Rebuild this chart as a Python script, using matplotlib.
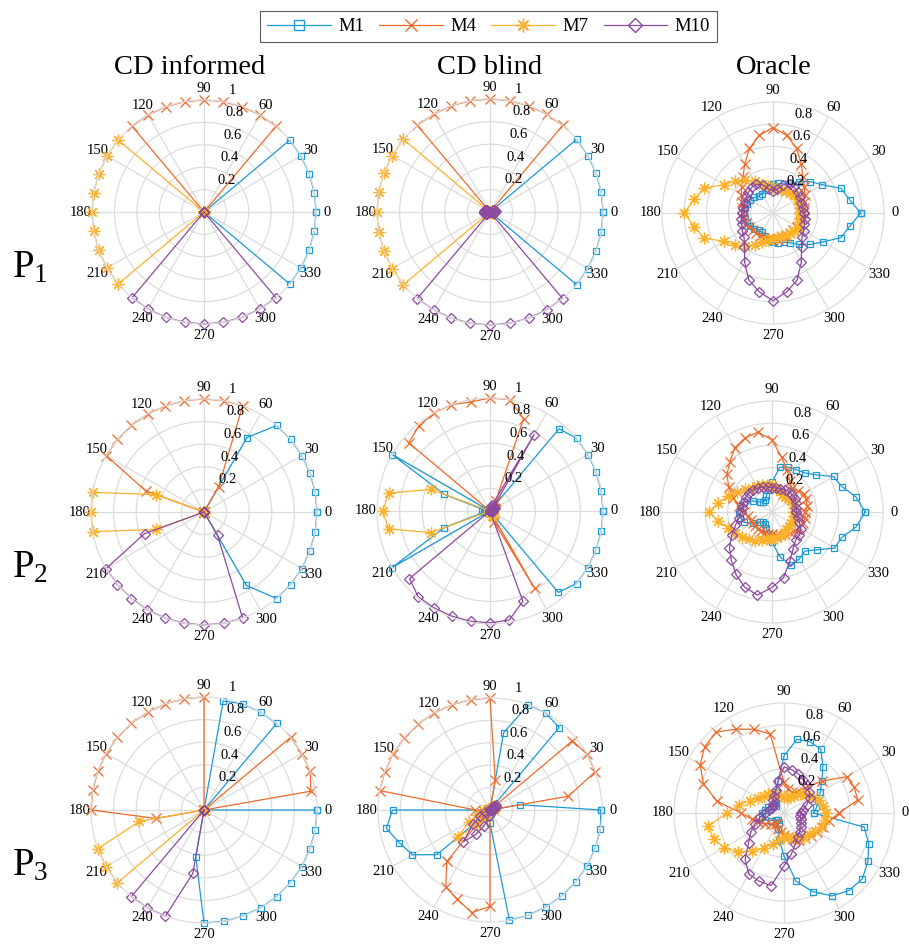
import numpy as np
import matplotlib
matplotlib.use("Agg")
import matplotlib.pyplot as plt
from matplotlib.lines import Line2D

plt.rcParams["font.family"] = ["Liberation Serif", "DejaVu Serif"]
plt.rcParams["mathtext.default"] = "regular"

W, H = 909, 948

ANGLES = list(range(0, 360, 10))          # beam directions, deg
SERIES = ["M1", "M4", "M7", "M10"]
COLUMNS = ["CD informed", "CD blind", "Oracle"]
ROWS = ["P$_1$", "P$_2$", "P$_3$"]
THETA_TICKS = list(range(0, 360, 30))

COLORS = {"M1": "#1b9ad6", "M4": "#ee6a2b", "M7": "#fcb12a", "M10": "#8c4a9f"}
MARKERS = {"M1": dict(marker="s", ms=5),
           "M4": dict(marker="x", ms=6.5),
           "M7": dict(marker=(8, 2, 0), ms=8.5),
           "M10": dict(marker="D", ms=5)}
LEG_MS = {"M1": 7, "M4": 8, "M7": 10, "M10": 7.5}

# ---- values, 36 per series (0..350 deg) ----
# P1
inf_p1_m1 = [1, 1, 1, 1, 1, 0, 0, 0, 0,  0, 0, 0, 0, 0, 0, 0, 0, 0,
             0, 0, 0, 0, 0, 0, 0, 0, 0,  0, 0, 0, 0, 0, 1, 1, 1, 1]
inf_p1_m4 = [0, 0, 0, 0, 0, 1, 1, 1, 1,  1, 1, 1, 1, 1, 0, 0, 0, 0,
             0, 0, 0, 0, 0, 0, 0, 0, 0,  0, 0, 0, 0, 0, 0, 0, 0, 0]
inf_p1_m7 = [0, 0, 0, 0, 0, 0, 0, 0, 0,  0, 0, 0, 0, 0, 1, 1, 1, 1,
             1, 1, 1, 1, 1, 0, 0, 0, 0,  0, 0, 0, 0, 0, 0, 0, 0, 0]
inf_p1_m10 = [0, 0, 0, 0, 0, 0, 0, 0, 0,  0, 0, 0, 0, 0, 0, 0, 0, 0,
              0, 0, 0, 0, 0, 1, 1, 1, 1,  1, 1, 1, 1, 1, 0, 0, 0, 0]

bl_p1_m1 = [1, 1, 1, 1, 1, 0, 0, 0, 0,  0, 0, 0, 0, 0, 0, 0.02, 0.03, 0.03,
            0.03, 0.03, 0.02, 0, 0, 0, 0, 0, 0,  0, 0, 0, 0, 0, 1, 1, 1, 1]
bl_p1_m4 = [0, 0, 0, 0, 0, 1, 1, 1, 1,  1, 1, 1, 1, 1, 0, 0, 0, 0,
            0, 0, 0, 0, 0, 0, 0, 0, 0,  0.02, 0.02, 0, 0, 0, 0, 0, 0, 0]
bl_p1_m7 = [0.02, 0.03, 0.02, 0, 0, 0, 0, 0, 0,  0, 0, 0, 0, 0, 1, 1, 1, 1,
            1, 1, 1, 1, 1, 0, 0, 0, 0,  0, 0, 0, 0, 0, 0, 0, 0.02, 0.02]
bl_p1_m10 = [0.04, 0.05, 0.04, 0.03, 0, 0, 0, 0, 0,  0, 0, 0, 0, 0, 0.03, 0.04, 0.05, 0.05,
             0.05, 0.05, 0.04, 0.03, 0, 1, 1, 1, 1,  1, 1, 1, 1, 1, 0, 0, 0.03, 0.04]

or_p1_m1 = [0.79, 0.70, 0.65, 0.51, 0.44, 0.37, 0.31, 0.28, 0.27,
            0.26, 0.25, 0.22, 0.20, 0.20, 0.22, 0.24, 0.25, 0.26,
            0.26, 0.26, 0.25, 0.24, 0.22, 0.20, 0.20, 0.22, 0.25,
            0.26, 0.27, 0.28, 0.31, 0.37, 0.44, 0.52, 0.65, 0.70]
or_p1_m4 = [0.27, 0.28, 0.30, 0.33, 0.37, 0.42, 0.51, 0.62, 0.71,
            0.77, 0.71, 0.62, 0.51, 0.42, 0.37, 0.33, 0.30, 0.28,
            0.27, 0.27, 0.26, 0.25, 0.24, 0.24, 0.24, 0.24, 0.24,
            0.24, 0.24, 0.24, 0.24, 0.24, 0.24, 0.25, 0.26, 0.27]
or_p1_m7 = [0.24, 0.25, 0.25, 0.26, 0.25, 0.24, 0.23, 0.22, 0.22,
            0.23, 0.25, 0.28, 0.33, 0.39, 0.45, 0.51, 0.66, 0.72,
            0.80, 0.72, 0.66, 0.51, 0.45, 0.39, 0.33, 0.28, 0.25,
            0.23, 0.22, 0.22, 0.23, 0.24, 0.25, 0.26, 0.25, 0.25]
or_p1_m10 = [0.28, 0.27, 0.27, 0.28, 0.29, 0.30, 0.30, 0.27, 0.22,
             0.20, 0.22, 0.27, 0.30, 0.30, 0.29, 0.28, 0.27, 0.27,
             0.28, 0.29, 0.30, 0.32, 0.34, 0.40, 0.51, 0.64, 0.72,
             0.79, 0.72, 0.64, 0.51, 0.40, 0.34, 0.32, 0.30, 0.29]

# P2
inf_p2_m1 = [1, 1, 1, 1, 1, 1, 0.76, 0, 0,  0, 0, 0, 0, 0, 0, 0, 0, 0,
             0, 0, 0, 0, 0, 0, 0, 0, 0,  0, 0, 0, 0.75, 1, 1, 1, 1, 1]
inf_p2_m4 = [0, 0, 0, 0, 0, 0, 0.26, 1, 1,  1, 1, 1, 1, 1, 1, 1, 0.55, 0,
             0, 0, 0, 0, 0, 0, 0, 0, 0,  0, 0, 0, 0, 0, 0, 0, 0, 0]
inf_p2_m7 = [0, 0, 0, 0, 0, 0, 0, 0, 0,  0, 0, 0, 0, 0, 0, 0, 0.45, 1,
             1, 1, 0.45, 0, 0, 0, 0, 0, 0,  0, 0, 0, 0, 0, 0, 0, 0, 0]
inf_p2_m10 = [0, 0, 0, 0, 0, 0, 0, 0, 0,  0, 0, 0, 0, 0, 0, 0, 0, 0,
              0, 0, 0.56, 1, 1, 1, 1, 1, 1,  1, 1, 1, 0.24, 0, 0, 0, 0, 0]

bl_p2_m1 = [1, 1, 1, 1, 1, 0.95, 0, 0, 0,  0, 0, 0, 0, 0, 0, 1, 0.43, 0.05,
            0.07, 0.05, 0.43, 1, 0, 0, 0, 0, 0,  0, 0, 0, 0, 0.94, 1, 1, 1, 1]
bl_p2_m4 = [0, 0, 0, 0, 0, 0, 0.10, 0.87, 1,  1, 0.98, 1, 1, 0.98, 0.94, 0, 0, 0,
            0, 0, 0, 0, 0, 0, 0, 0, 0,  0, 0, 0.10, 0.79, 0, 0, 0, 0, 0]
bl_p2_m7 = [0, 0, 0, 0.04, 0.05, 0.04, 0, 0, 0,  0, 0, 0, 0, 0, 0, 0, 0.56, 0.91,
            0.95, 0.91, 0.56, 0, 0, 0, 0, 0, 0,  0, 0, 0.05, 0.06, 0.04, 0, 0, 0, 0]
bl_p2_m10 = [0.03, 0.03, 0.04, 0.05, 0.05, 0.06, 0.78, 0.06, 0.04,  0, 0, 0, 0, 0, 0, 0, 0, 0,
             0, 0, 0, 0, 0.93, 0.99, 0.99, 0.99, 0.99,  0.99, 0.98, 0.85, 0, 0, 0, 0, 0, 0.02]

or_p2_m1 = [0.84, 0.77, 0.67, 0.64, 0.52, 0.46, 0.44, 0.43, 0.41,
            0.27, 0.20, 0.15, 0.12, 0.12, 0.14, 0.20, 0.27, 0.29,
            0.30, 0.29, 0.27, 0.20, 0.14, 0.12, 0.12, 0.15, 0.20,
            0.27, 0.41, 0.51, 0.49, 0.46, 0.53, 0.65, 0.67, 0.77]
or_p2_m4 = [0.30, 0.32, 0.33, 0.33, 0.30, 0.28, 0.32, 0.40, 0.50,
            0.65, 0.73, 0.71, 0.67, 0.59, 0.53, 0.45, 0.37, 0.30,
            0.25, 0.22, 0.20, 0.20, 0.20, 0.20, 0.20, 0.20, 0.20,
            0.20, 0.21, 0.22, 0.23, 0.25, 0.27, 0.28, 0.30, 0.30]
or_p2_m7 = [0.20, 0.20, 0.20, 0.20, 0.19, 0.18, 0.18, 0.20, 0.22,
            0.24, 0.25, 0.26, 0.27, 0.28, 0.32, 0.36, 0.42, 0.49,
            0.57, 0.49, 0.42, 0.38, 0.35, 0.32, 0.30, 0.27, 0.25,
            0.24, 0.24, 0.23, 0.22, 0.20, 0.20, 0.20, 0.20, 0.20]
or_p2_m10 = [0.22, 0.22, 0.23, 0.24, 0.24, 0.24, 0.23, 0.22, 0.22,
             0.22, 0.23, 0.24, 0.25, 0.26, 0.27, 0.27, 0.27, 0.27,
             0.28, 0.30, 0.35, 0.42, 0.50, 0.57, 0.65, 0.72, 0.76,
             0.68, 0.60, 0.47, 0.38, 0.33, 0.32, 0.30, 0.26, 0.24]

# P3
inf_p3_m1 = [1, 0, 0, 0, 0, 1, 1, 1, 0.98,  0, 0, 0, 0, 0, 0, 0, 0, 0,
             0, 0, 0, 0, 0, 0, 0, 0, 0.42,  1, 1, 1, 1, 1, 1, 1, 1, 1]
inf_p3_m4 = [0, 0.96, 1, 1, 1, 0, 0, 0, 0,  1, 1, 1, 1, 1, 1, 1, 1, 1,
             1, 0.43, 0, 0, 0, 0, 0, 0, 0,  0, 0, 0, 0, 0, 0, 0, 0, 0]
inf_p3_m7 = [0, 0, 0, 0, 0, 0, 0, 0, 0,  0, 0, 0, 0, 0, 0, 0, 0, 0,
             0, 0.58, 1, 1, 1, 0, 0, 0, 0,  0, 0, 0, 0, 0, 0, 0, 0, 0]
inf_p3_m10 = [0, 0, 0, 0, 0, 0, 0, 0, 0,  0, 0, 0, 0, 0, 0, 0, 0, 0,
              0, 0, 0, 0, 0, 1, 1, 1, 0.57,  0, 0, 0, 0, 0, 0, 0, 0, 0]

bl_p3_m1 = [0.99, 0.27, 0, 0, 0, 0.96, 1, 1, 0.70,  0, 0, 0, 0, 0, 0, 0, 0, 0,
            0.87, 0.94, 0.86, 0.80, 0.62, 0.03, 0.03, 0.03, 0.05,  0.12, 1, 1, 1, 1, 1, 1, 1, 1]
bl_p3_m4 = [0, 0.71, 1, 1, 0.96, 0, 0, 0, 0.27,  1, 1, 1, 1, 1, 1, 1, 1, 1,
            0.13, 0.05, 0.05, 0.05, 0.05, 0.60, 0.79, 0.85, 0.93,  0.86, 0, 0, 0, 0, 0, 0, 0, 0]
bl_p3_m7 = [0.04, 0.04, 0.04, 0.05, 0.05, 0.03, 0, 0, 0,  0, 0, 0, 0, 0, 0, 0, 0, 0,
            0.03, 0.05, 0.12, 0.22, 0.37, 0.18, 0.08, 0, 0,  0, 0, 0, 0, 0, 0, 0, 0, 0]
bl_p3_m10 = [0.03, 0.04, 0.05, 0.06, 0.07, 0.05, 0.03, 0, 0,  0, 0, 0, 0, 0, 0, 0, 0, 0,
             0, 0, 0.05, 0.10, 0.20, 0.37, 0.25, 0.15, 0.05,  0, 0, 0, 0, 0, 0, 0, 0, 0]

or_p3_m1 = [0.27, 0.30, 0.33, 0.38, 0.45, 0.55, 0.67, 0.69, 0.68,
            0.52, 0.30, 0.20, 0.15, 0.12, 0.10, 0.12, 0.15, 0.18,
            0.20, 0.20, 0.18, 0.14, 0.10, 0.08, 0.10, 0.15, 0.25,
            0.39, 0.63, 0.76, 0.87, 0.92, 0.93, 0.88, 0.82, 0.74]
or_p3_m4 = [0.50, 0.68, 0.68, 0.66, 0.45, 0.30, 0.22, 0.20, 0.22,
            0.28, 0.73, 0.81, 0.88, 0.96, 0.94, 0.88, 0.78, 0.62,
            0.39, 0.30, 0.25, 0.20, 0.15, 0.12, 0.12, 0.15, 0.18,
            0.20, 0.22, 0.25, 0.28, 0.30, 0.32, 0.35, 0.38, 0.42]
or_p3_m7 = [0.38, 0.36, 0.34, 0.30, 0.26, 0.22, 0.18, 0.15, 0.14,
            0.15, 0.16, 0.18, 0.20, 0.22, 0.24, 0.27, 0.33, 0.42,
            0.52, 0.70, 0.68, 0.63, 0.55, 0.45, 0.37, 0.30, 0.25,
            0.22, 0.22, 0.24, 0.26, 0.28, 0.30, 0.33, 0.36, 0.38]
or_p3_m10 = [0.15, 0.18, 0.22, 0.27, 0.30, 0.33, 0.35, 0.38, 0.40,
             0.42, 0.30, 0.22, 0.18, 0.15, 0.13, 0.12, 0.12, 0.14,
             0.17, 0.22, 0.28, 0.35, 0.42, 0.55, 0.64, 0.66, 0.67,
             0.48, 0.38, 0.30, 0.25, 0.22, 0.20, 0.18, 0.16, 0.15]

PANELS = [
    [[inf_p1_m1, inf_p1_m4, inf_p1_m7, inf_p1_m10],
     [bl_p1_m1, bl_p1_m4, bl_p1_m7, bl_p1_m10],
     [or_p1_m1, or_p1_m4, or_p1_m7, or_p1_m10]],
    [[inf_p2_m1, inf_p2_m4, inf_p2_m7, inf_p2_m10],
     [bl_p2_m1, bl_p2_m4, bl_p2_m7, bl_p2_m10],
     [or_p2_m1, or_p2_m4, or_p2_m7, or_p2_m10]],
    [[inf_p3_m1, inf_p3_m4, inf_p3_m7, inf_p3_m10],
     [bl_p3_m1, bl_p3_m4, bl_p3_m7, bl_p3_m10],
     [or_p3_m1, or_p3_m4, or_p3_m7, or_p3_m10]],
]

# panel centre (x, y) and outer radius, in pixels
GEOM = [[(204, 212, 112), (490, 212, 113), (773, 213, 111)],
        [(204, 512, 113), (490, 511, 113), (772, 512, 111)],
        [(204, 810, 113), (490, 810, 112), (784, 813, 110)]]

GRID = "#dcdcdc"
TICK_FS = 10.5


def panel(fig, cx, cy, R, series, rlabels):
    ax = fig.add_axes([(cx - R) / W, 1 - (cy + R) / H, 2 * R / W, 2 * R / H],
                      projection="polar")
    th = np.deg2rad(ANGLES + [360])
    for name, vals in zip(SERIES, series):
        ax.plot(th, list(vals) + [vals[0]], color=COLORS[name], lw=0.9,
                mfc="none", mew=0.9, clip_on=False, **MARKERS[name])
    ax.set_ylim(0, 1)
    ax.set_yticks([0.2, 0.4, 0.6, 0.8])
    ax.set_yticklabels([""] * 4)
    ax.set_thetagrids(THETA_TICKS, [str(a) for a in THETA_TICKS])
    ax.tick_params(axis="x", pad=1, length=0, labelsize=TICK_FS)
    ax.grid(color=GRID, lw=0.9)
    ax.spines["polar"].set_edgecolor(GRID)
    ax.spines["polar"].set_linewidth(0.9)
    for t in rlabels:
        x, y = 0.10 + 0.12 * t, t + 0.085
        ax.text(np.arctan2(y, x), np.hypot(x, y), f"{t:g}", ha="left", va="center",
                fontsize=TICK_FS)
    return ax


fig = plt.figure(figsize=(W / 100, H / 100), dpi=100)

for i in range(3):
    for j in range(3):
        cx, cy, R = GEOM[i][j]
        rl = [0.2, 0.4, 0.6, 0.8] if j == 2 else [0.2, 0.4, 0.6, 0.8, 1]
        panel(fig, cx, cy, R, PANELS[i][j], rl)

for x, name in zip([190, 490, 774], COLUMNS):
    fig.text(x / W, 1 - 68 / H, name, ha="center", va="center", fontsize=20.5)
for y, name in zip([268, 568, 866], ROWS):
    fig.text(12 / W, 1 - y / H, name, ha="left", va="center", fontsize=28)

handles = []
for s in SERIES:
    mk = dict(MARKERS[s], ms=LEG_MS[s])
    handles.append(Line2D([], [], color=COLORS[s], lw=0.9, mfc="none", mew=1.0, **mk))
leg = fig.legend(handles, SERIES, loc="upper center", bbox_to_anchor=(488.5 / W, 1 - 2 / H),
                 ncol=4, frameon=True, fancybox=False, edgecolor="#333333", fontsize=13.5,
                 handlelength=3.4, handletextpad=0.4, columnspacing=0.8, borderpad=0.35)
leg.get_frame().set_linewidth(0.8)

fig.savefig("out.png", dpi=100)
